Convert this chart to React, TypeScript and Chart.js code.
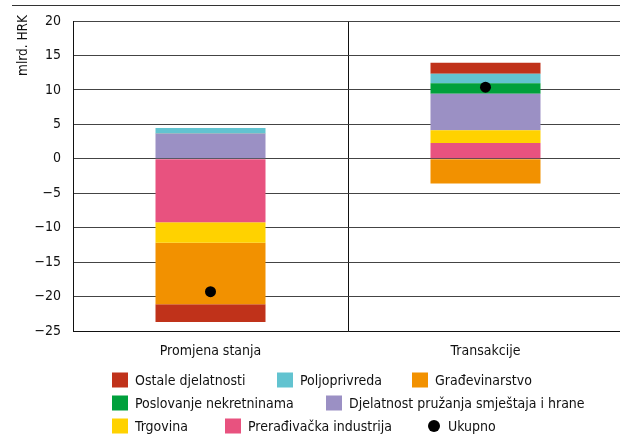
import React, { useEffect, useRef } from 'react';
import { Chart, registerables } from 'chart.js';

Chart.register(...registerables);

const categories = ['Promjena stanja', 'Transakcije'];
const preradjivacka = [-9.2, 2.3];
const trgovina = [-3.0, 1.85];
const djelatnost = [3.67, 5.3];
const poslovanje = [0.05, 1.5];
const poljoprivreda = [0.73, 1.4];
const gradjevinarstvo = [-8.9, -3.6];
const ostale = [-2.6, 1.6];
const ukupno = [-19.3, 10.4];

const FONT = "'Liberation Sans Narrow', 'Arial Narrow', 'DejaVu Sans Condensed', 'Liberation Sans', sans-serif";

const legendRows = [
  ['Ostale djelatnosti', 'Poljoprivreda', 'Građevinarstvo'],
  ['Poslovanje nekretninama', 'Djelatnost pružanja smještaja i hrane'],
  ['Trgovina', 'Prerađivačka industrija', 'Ukupno'],
];
const legendX = [
  [112, 277, 412],
  [112, 326],
  [112, 225, 428],
];
const legendY = [380, 403, 426];

const decorPlugin = {
  id: 'decor',
  afterDraw(chart: any) {
    const ctx = chart.ctx;
    ctx.save();
    // top rule
    ctx.strokeStyle = '#333';
    ctx.lineWidth = 1;
    ctx.beginPath();
    ctx.moveTo(12, 5.5);
    ctx.lineTo(chart.width, 5.5);
    ctx.stroke();
    // y title
    ctx.save();
    ctx.translate(23, 15);
    ctx.rotate(-Math.PI / 2);
    ctx.font = `13.5px ${FONT}`;
    ctx.fillStyle = '#111';
    ctx.textAlign = 'right';
    ctx.textBaseline = 'middle';
    ctx.fillText('mlrd. HRK', 0, 0);
    ctx.restore();
    // legend
    const ds = chart.data.datasets;
    ctx.font = `14px ${FONT}`;
    ctx.textBaseline = 'middle';
    ctx.textAlign = 'left';
    legendRows.forEach((row, r) => {
      row.forEach((label, i) => {
        const d = ds.find((x: any) => x.label === label);
        if (!d) return;
        const x = legendX[r][i];
        const y = legendY[r];
        if (d.type === 'line') {
          ctx.fillStyle = '#000';
          ctx.beginPath();
          ctx.arc(x + 6, y, 6, 0, Math.PI * 2);
          ctx.fill();
          ctx.fillStyle = '#111';
          ctx.fillText(label, x + 20, y + 1);
        } else {
          ctx.fillStyle = d.backgroundColor;
          ctx.fillRect(x, y - 7.5, 16, 15);
          ctx.fillStyle = '#111';
          ctx.fillText(label, x + 23, y + 1);
        }
      });
    });
    ctx.restore();
  },
};

export default function App() {
  const ref = useRef<HTMLCanvasElement>(null);
  useEffect(() => {
    if (!ref.current) return;
    const bar = (label: string, data: number[], color: string) => ({
      type: 'bar' as const,
      label,
      data,
      backgroundColor: color,
      borderWidth: 0,
      stack: 's',
      order: 1,
      barPercentage: 0.4,
      categoryPercentage: 1,
    });
    const chart = new Chart(ref.current, {
      type: 'bar',
      data: {
        labels: categories,
        datasets: [
          bar('Prerađivačka industrija', preradjivacka, '#E8527F'),
          bar('Trgovina', trgovina, '#FFD200'),
          bar('Djelatnost pružanja smještaja i hrane', djelatnost, '#9B90C4'),
          bar('Poslovanje nekretninama', poslovanje, '#00A03C'),
          bar('Poljoprivreda', poljoprivreda, '#62C3D0'),
          bar('Građevinarstvo', gradjevinarstvo, '#F29100'),
          bar('Ostale djelatnosti', ostale, '#C0321A'),
          {
            type: 'line' as const,
            label: 'Ukupno',
            data: ukupno,
            showLine: false,
            pointRadius: 5.5,
            pointHoverRadius: 5.5,
            pointBackgroundColor: '#000',
            pointBorderWidth: 0,
            borderColor: '#000',
            stack: 'u',
            order: 0,
          } as any,
        ],
      },
      options: {
        animation: false,
        responsive: false,
        maintainAspectRatio: false,
        layout: { padding: { left: 0, top: 21, right: 7, bottom: 76 } },
        plugins: { legend: { display: false }, tooltip: { enabled: false } },
        font: { family: FONT } as any,
        scales: {
          x: {
            stacked: true,
            grid: { color: '#111', lineWidth: 1, drawTicks: false, offset: true },
            border: { color: '#111', width: 1 },
            ticks: { color: '#111', font: { family: FONT, size: 14 }, padding: 12 },
            afterFit: (s: any) => { s.height = 30; },
          },
          y: {
            stacked: true,
            min: -25,
            max: 20,
            grid: { color: '#444', lineWidth: 1, drawTicks: false },
            border: { color: '#111', width: 1 },
            ticks: {
              stepSize: 5,
              color: '#111',
              font: { family: FONT, size: 14 },
              padding: 12,
              callback: (v: any) => (Number(v) < 0 ? '\u2212' + Math.abs(Number(v)) : String(v)),
            },
            afterFit: (s: any) => { s.width = 73; },
          },
        },
      },
      plugins: [decorPlugin],
    });
    return () => chart.destroy();
  }, []);
  return (
    <div style={{ position: 'fixed', left: 0, top: 0, width: 620, height: 437, overflow: 'hidden', background: '#fff' }}>
      <canvas ref={ref} width={630} height={437} style={{ display: 'block', width: 630, height: 437 }} />
    </div>
  );
}
